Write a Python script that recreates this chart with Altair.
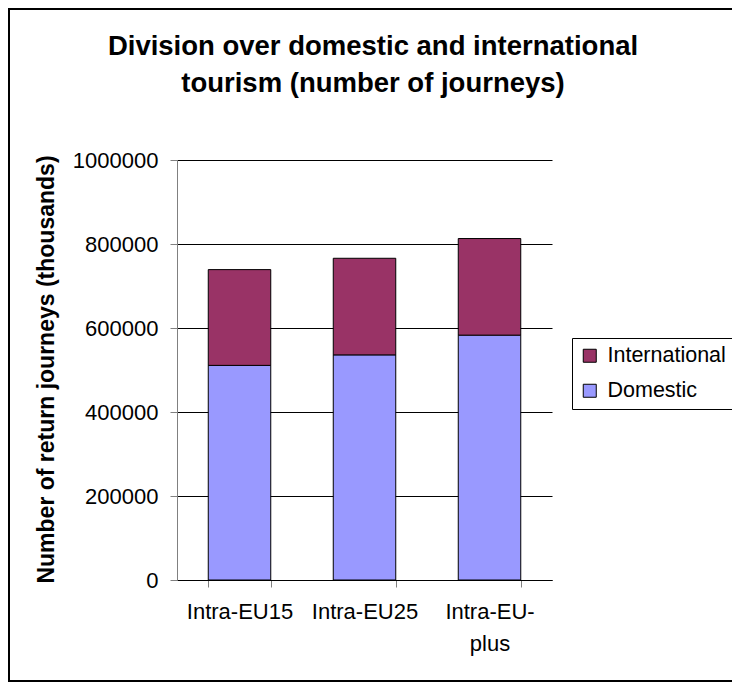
import altair as alt
import pandas as pd

categories = ["Intra-EU15", "Intra-EU25", "Intra-EU-plus"]
domestic = [511000, 536000, 583000]
international = [228000, 230000, 230000]
series = ["International", "Domestic"]
colors = ["#993366", "#9999FF"]
y_ticks = [0, 200000, 400000, 600000, 800000, 1000000]
title_lines = ["Division over domestic and international", "tourism (number of journeys)"]
y_title = "Number of return journeys (thousands)"

rows = []
for c, d, i in zip(categories, domestic, international):
    rows.append({"category": c, "series": "Domestic", "value": d, "order": 0})
    rows.append({"category": c, "series": "International", "value": i, "order": 1})
df = pd.DataFrame(rows)

W, H = 375, 420
PAD_L, PAD_T = 169, 152
FONT = "Liberation Sans"

bars = alt.Chart(df).mark_bar(stroke="black", strokeWidth=1).encode(
    x=alt.X(
        "category:N",
        sort=categories,
        scale=alt.Scale(paddingInner=0.5, paddingOuter=0.25),
        axis=alt.Axis(
            title=None,
            labelFont=FONT,
            labelFontSize=22,
            labelColor="black",
            labelAngle=0,
            tickBand="extent",
            tickSize=7,
            tickColor="#808080",
            domainColor="black",
            labelPadding=14,
            labelLineHeight=32,
            labelExpr="datum.label == 'Intra-EU-plus' ? ['Intra-EU-', 'plus'] : datum.label",
        ),
    ),
    y=alt.Y(
        "value:Q",
        stack="zero",
        scale=alt.Scale(domain=[0, 1000000]),
        axis=alt.Axis(
            values=y_ticks,
            format="d",
            title=y_title,
            titleFont=FONT,
            titleFontSize=23,
            titleFontWeight="bold",
            titleColor="black",
            titleAngle=270,
            titleX=-124,
            titleY=209,
            titleAlign="center",
            titleBaseline="alphabetic",
            labelFont=FONT,
            labelFontSize=22,
            labelColor="black",
            labelPadding=12,
            tickSize=7,
            tickColor="#808080",
            domainColor="#808080",
            grid=True,
            gridColor="black",
            gridWidth=1,
        ),
    ),
    color=alt.Color(
        "series:N",
        scale=alt.Scale(domain=series, range=colors),
        legend=alt.Legend(
            title=None,
            orient="none",
            legendX=395,
            legendY=178,
            strokeColor="black",
            padding=7,
            symbolType="square",
            symbolSize=169,
            symbolStrokeColor="black",
            symbolStrokeWidth=1,
            labelFont=FONT,
            labelFontSize=21.5,
            labelColor="black",
            labelOffset=7,
            rowPadding=12,
        ),
    ),
    order=alt.Order("order:Q"),
)

one = pd.DataFrame({"a": [0]})

frame = alt.Chart(one).mark_rect(
    fillOpacity=0, stroke="black", strokeWidth=2
).encode(
    x=alt.value(-PAD_L + 1),
    x2=alt.value(729 - PAD_L),
    y=alt.value(-PAD_T + 1),
    y2=alt.value(673 - PAD_T),
)

title = alt.Chart(one).mark_text(
    text=title_lines,
    font=FONT,
    fontSize=27.5,
    fontWeight="bold",
    color="black",
    align="center",
    baseline="alphabetic",
    lineHeight=37,
).encode(
    x=alt.value(373 - 177),
    y=alt.value(55 - 160),
)

chart = alt.layer(frame, title, bars).properties(
    width=W,
    height=H,
    autosize="none",
    padding={"left": PAD_L, "top": PAD_T, "right": 724 - PAD_L - W, "bottom": 676 - PAD_T - H},
).configure_view(strokeWidth=0)

chart.save("out.html", embed_options={"renderer": "svg", "actions": False})
